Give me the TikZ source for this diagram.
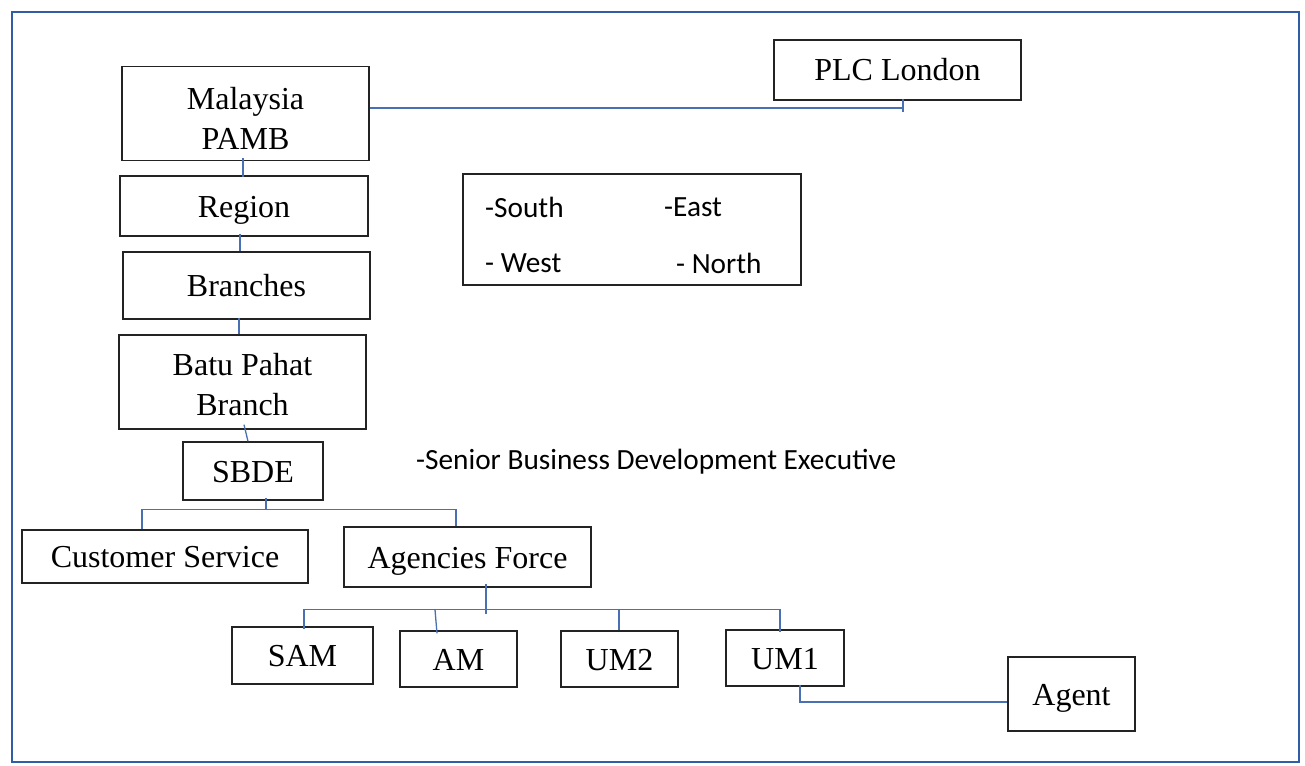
\documentclass[tikz,border=0pt]{standalone}
\usepackage{fontspec}
\setmainfont{Liberation Serif}
\newfontfamily\calfont{Carlito}
\usetikzlibrary{calc}
\definecolor{conn}{RGB}{72,112,178}
\definecolor{framec}{RGB}{48,94,166}
\definecolor{boxline}{RGB}{35,35,35}
\begin{document}
\begin{tikzpicture}[x=1pt,y=-1pt,
  box/.style={draw=boxline,line width=1.3pt,inner sep=0pt,
    text height=26pt,text depth=4pt,
    font=\fontsize{32}{39}\selectfont},
  emptybox/.style={draw=boxline,line width=1.3pt,inner sep=0pt},
  twoline/.style={inner sep=0pt,align=center,font=\fontsize{32}{40}\selectfont},
  sanstext/.style={inner sep=0pt,anchor=west,font=\calfont\fontsize{29.3}{34}\selectfont},
  link/.style={draw=conn,line width=1.3pt}]
\useasboundingbox (0,0) rectangle (1305,765);
\draw[framec,line width=2.8pt] (12,12) rectangle (1299,762);
% nodes
\node[emptybox,minimum width=247pt,minimum height=94pt] (mal) at (245.5,113.5) {};
\node[twoline] (maltxt) at ([yshift=-4.5pt]mal.center) {Malaysia\\PAMB};
\node[box,minimum width=248pt,minimum height=60pt] (reg) at (244,206) {Region};
\node[box,minimum width=247pt,minimum height=67pt] (bra) at (246.5,285.5) {Branches};
\node[emptybox,minimum width=247pt,minimum height=94pt] (batu) at (242.5,382) {};
\node[twoline] (batutxt) at ([yshift=-3pt]batu.center) {Batu Pahat\\Branch};
\node[box,minimum width=140pt,minimum height=58pt] (sbde) at (253,471) {SBDE};
\node[box,minimum width=286pt,minimum height=53pt] (cs) at (165,556.5) {Customer Service};
\node[box,minimum width=247pt,minimum height=60pt] (af) at (467.5,557) {Agencies Force};
\node[box,minimum width=141pt,minimum height=57pt] (sam) at (302.5,655.5) {SAM};
\node[box,minimum width=117pt,minimum height=56pt] (am) at (458.5,659) {AM};
\node[box,minimum width=117pt,minimum height=56pt] (um2) at (619.5,659) {UM2};
\node[box,minimum width=118pt,minimum height=56pt] (um1) at (785,658) {UM1};
\node[box,minimum width=127pt,minimum height=74pt] (agent) at (1071.5,694) {Agent};
\node[box,minimum width=247pt,minimum height=60pt] (plc) at (897.5,70) {PLC London};
\node[emptybox,minimum width=338pt,minimum height=111pt] (dirs) at (632,229.5) {};
\node[sanstext] (south) at (485,207) {-South};
\node[sanstext] (east) at (664,207) {-East};
\node[sanstext] (west) at (485,263) {- West};
\node[sanstext] (north) at (676,263) {- North};
\node[sanstext] (sbdetxt) at (416,462) {-Senior Business Development Executive};
% connectors
\coordinate (tk) at ([xshift=5.5pt]plc.south);
\draw[link] ([yshift=5.5pt]mal.east) -- ([yshift=5.5pt]mal.east -| tk);
\draw[link] ([yshift=2pt]tk) -- ++(0,13);
\draw[link] ([xshift=-2.5pt,yshift=3pt]mal.south) -- ([xshift=-1pt,yshift=-2pt]reg.north);
\draw[link] ([xshift=-4pt,yshift=3pt]reg.south) -- ([xshift=-4pt]reg.south |- bra.north);
\draw[link] ([xshift=-7.5pt,yshift=2pt]bra.south) -- ([xshift=-3.5pt]batu.north);
\draw[link] ([xshift=1.5pt,yshift=5pt]batu.south) -- ([xshift=-5pt]sbde.north);
% SBDE bus
\path ([xshift=13pt]sbde.south) ++(0,9) coordinate (b1);
\draw[link] ([xshift=13pt,yshift=3pt]sbde.south) -- (b1);
\draw[link] ([xshift=-23pt]cs.north) |- ([xshift=-11.5pt]af.north |- b1) -- ([xshift=-11.5pt]af.north);
% Agencies bus
\path ([xshift=18.5pt]af.south) ++(0,22) coordinate (b2);
\draw[link] ([xshift=18.5pt,yshift=4pt]af.south) -- ([yshift=-4pt]b2);
\draw[link] ([xshift=1.5pt,yshift=-3pt]sam.north) |- ([xshift=-5pt]um1.north |- b2) -- ([xshift=-5pt,yshift=-3pt]um1.north);
\draw[link] ([xshift=-23.5pt]am.north |- b2) -- ([xshift=-21.5pt,yshift=-3pt]am.north);
\draw[link] ([xshift=-0.5pt]um2.north |- b2) -- ([xshift=-0.5pt]um2.north);
% UM1 to Agent
\draw[link] ([xshift=15pt,yshift=2pt]um1.south) |- ([yshift=-8pt]agent.west);
\end{tikzpicture}
\end{document}
